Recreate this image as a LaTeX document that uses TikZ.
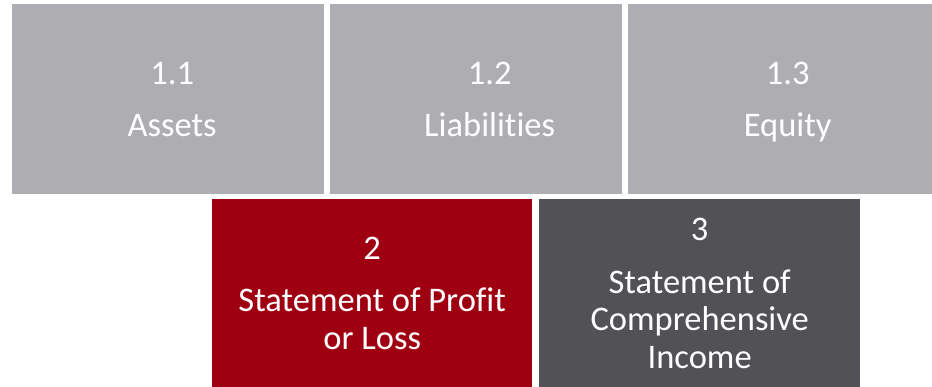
\documentclass[tikz,border=0pt]{standalone}
\usepackage{fontspec}
\setmainfont{Carlito}[Ligatures={NoCommon}]
\definecolor{tilegrey}{HTML}{AEADB1}
\definecolor{tilered}{HTML}{9E0012}
\definecolor{tiledark}{HTML}{525156}
\tikzset{
  tile/.style={anchor=north west, inner sep=0pt},
  caption/.style={inner sep=0pt, align=center, text=white,
    text depth=0pt, font=\fontsize{34.5}{37.5}\selectfont},
}
\begin{document}
\begin{tikzpicture}[x=1pt,y=-1pt]
      \useasboundingbox (0,0) rectangle (932,387);
      \node[tile, fill=tilegrey, minimum width=312pt, minimum height=190pt] (A) at (12,4) {};
      \node[tile, fill=tilegrey, minimum width=292pt, minimum height=190pt] (L) at (330,4) {};
      \node[tile, fill=tilegrey, minimum width=304pt, minimum height=190pt] (E) at (628,4) {};
      \node[tile, fill=tilered, minimum width=320pt, minimum height=188pt] (P) at (212,199) {};
      \node[tile, fill=tiledark, minimum width=321pt, minimum height=188pt] (C) at (539,199) {};

      \node[caption] (A-t) at ([xshift=4pt]A.center) {1.1\\[15pt]Assets};
      \node[caption] (L-t) at ([xshift=13.5pt]L.center) {1.2\\[15pt]Liabilities};
      \node[caption] (E-t) at ([xshift=7.5pt]E.center) {1.3\\[15pt]Equity};
      \node[caption] (P-t) at (P.center) {2\\[15pt]Statement of Profit\\or Loss};
      \node[caption] (C-t) at (C.center) {3\\[15pt]Statement of\\Comprehensive\\Income};
    \end{tikzpicture}
\end{document}
